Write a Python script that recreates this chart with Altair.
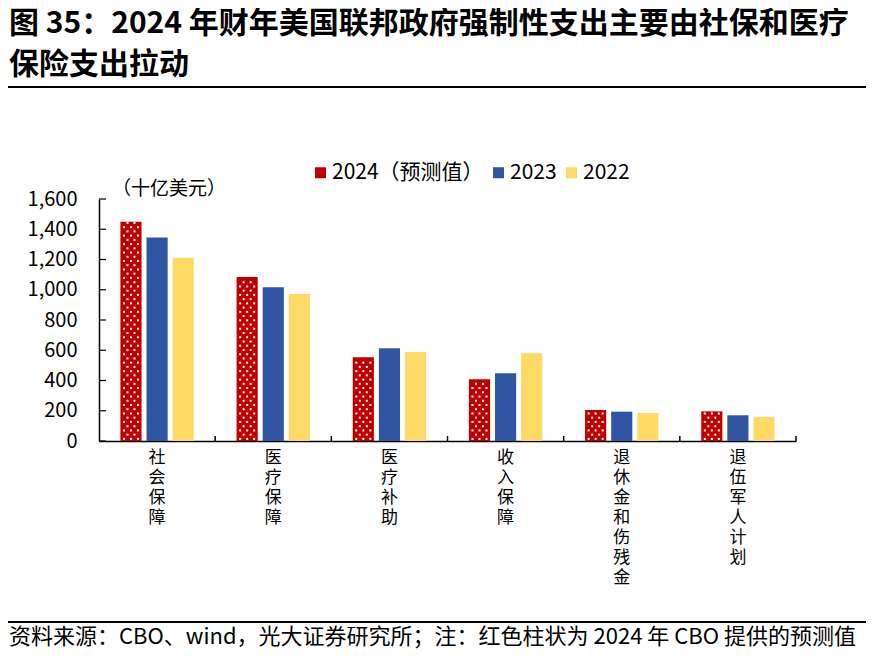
import altair as alt
import pandas as pd

# ---------------- data ----------------
categories = ["社会保障", "医疗保障", "医疗补助", "收入保障", "退休金和伤残金", "退伍军人计划"]
series_names = ["2024（预测值）", "2023", "2022"]
values_2024 = [1450, 1085, 553, 408, 205, 196]
values_2023 = [1345, 1016, 613, 448, 194, 170]
values_2022 = [1212, 972, 588, 580, 185, 159]
colors = ["#C00000", "#2F55A3", "#FFD966"]
y_ticks = [0, 200, 400, 600, 800, 1000, 1200, 1400, 1600]

title_line1 = "图 35：2024 年财年美国联邦政府强制性支出主要由社保和医疗"
title_line2 = "保险支出拉动"
unit_text = "（十亿美元）"
source_text = "资料来源：CBO、wind，光大证券研究所；注：红色柱状为 2024 年 CBO 提供的预测值"

FONT = "Noto Sans CJK SC"
W, H = 697, 242
PI, PO = 0.19, 0.82  # xOffset padding

rows = []
for s, vals in zip(series_names, [values_2024, values_2023, values_2022]):
    for c, v in zip(categories, vals):
        rows.append({"cat": c, "series": s, "value": v})
bars_df = pd.DataFrame(rows)

# dot texture rows for the forecast (2024) bars, derived from their values
DOT_STEP = 28
dot_rows = []
for c, v in zip(categories, values_2024):
    k = 0
    while (k + 0.5) * DOT_STEP <= v - 8:
        dot_rows.append({"cat": c, "y": (k + 0.5) * DOT_STEP, "parity": k % 2})
        k += 1
dots_df = pd.DataFrame(dot_rows)
center_frac = (PO + (1 - PI) / 2) / (3 - PI + 2 * PO)

x_scale = alt.Scale(paddingInner=0, paddingOuter=0)
y_scale = alt.Scale(domain=[0, 1600], nice=False)

x_axis = alt.Axis(title=None, ticks=False, domain=True, domainColor="black",
                  domainWidth=1.5, labelAngle=0, labelFont=FONT, labelFontSize=17,
                  labelColor="black", labelLineHeight=20, labelPadding=8,
                  labelExpr="split(datum.label, '')", labelBaseline="top")
y_axis = alt.Axis(title=None, values=y_ticks, format=",d", ticks=False, grid=False,
                  domain=True, domainColor="black", domainWidth=1.5,
                  labelFont=FONT, labelFontSize=20, labelColor="black",
                  labelPadding=22)

bars = alt.Chart(bars_df).mark_bar().encode(
    x=alt.X("cat:N", sort=categories, scale=x_scale, axis=x_axis),
    xOffset=alt.XOffset("series:N", sort=series_names,
                        scale=alt.Scale(paddingInner=PI, paddingOuter=PO)),
    y=alt.Y("value:Q", scale=y_scale, axis=y_axis),
    color=alt.Color("series:N", sort=series_names,
                    scale=alt.Scale(domain=series_names, range=colors),
                    legend=alt.Legend(title=None, orient="none", legendX=211, legendY=-37,
                                      direction="horizontal", symbolType="square",
                                      symbolSize=121, symbolStrokeWidth=0,
                                      labelFont=FONT, labelFontSize=21, labelColor="black",
                                      labelOffset=1, columnPadding=4, padding=0)),
)

dot_layers = []
for parity, offsets in [(0, [-7, 0, 7]), (1, [-3.5, 3.5])]:
    for off in offsets:
        dot_layers.append(
            alt.Chart(dots_df).transform_filter(alt.datum.parity == parity)
            .mark_square(size=4, color="white", opacity=1, xOffset=off)
            .encode(x=alt.X("cat:N", sort=categories, scale=x_scale, bandPosition=center_frac, axis=x_axis),
                    y=alt.Y("y:Q", scale=y_scale, axis=y_axis))
        )

ticks_df = pd.DataFrame({"v": y_ticks})
y_tick_rules = alt.Chart(ticks_df).mark_rule(color="black", strokeWidth=1.2).encode(
    y=alt.Y("v:Q", scale=y_scale, axis=y_axis), x=alt.value(0), x2=alt.value(7))

cats_df = pd.DataFrame({"cat": categories})
x_tick_rules = alt.Chart(cats_df).mark_rule(color="black", strokeWidth=1.5).encode(
    x=alt.X("cat:N", sort=categories, scale=x_scale, bandPosition=1, axis=x_axis),
    y=alt.value(H - 5), y2=alt.value(H))


def text_layer(text, x, y, size, weight="normal", baseline="middle"):
    return alt.Chart(pd.DataFrame({"t": [text]})).mark_text(
        align="left", baseline=baseline, font=FONT, fontSize=size,
        fontWeight=weight, color="black").encode(
        text="t:N", x=alt.value(x), y=alt.value(y))


title1 = text_layer(title_line1, -90, -175, 30, weight="bold")
title2 = text_layer(title_line2, -90, -134, 30, weight="bold")
unit = text_layer(unit_text, 13, -10, 19)
source = text_layer(source_text, -90, 438, 22)

line_df = pd.DataFrame({"k": [0]})
top_line = alt.Chart(line_df).mark_rule(color="black", strokeWidth=2).encode(
    x=alt.value(-91), x2=alt.value(W + 70), y=alt.value(-112))
bottom_line = alt.Chart(line_df).mark_rule(color="black", strokeWidth=2).encode(
    x=alt.value(-91), x2=alt.value(W + 70), y=alt.value(423))

chart = alt.layer(bars, *dot_layers, y_tick_rules, x_tick_rules, title1, title2, unit,
                  source, top_line, bottom_line).properties(
    width=W, height=H,
    autosize=alt.AutoSizeParams(type="none"),
    padding={"left": 91, "top": 191, "right": 70, "bottom": 210},
).configure_view(stroke=None)

chart.save("out.html", embed_options={"renderer": "svg", "actions": False})
